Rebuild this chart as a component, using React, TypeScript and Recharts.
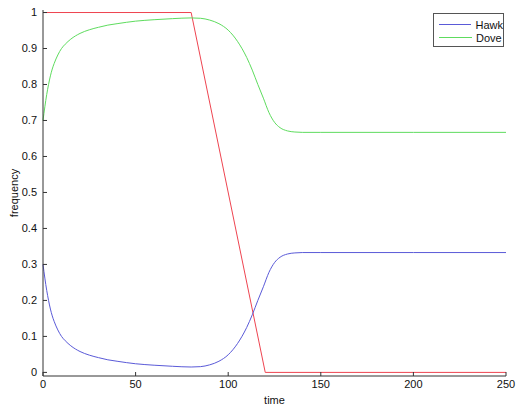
import { Line, LineChart, XAxis, YAxis } from "recharts";

// time steps shared by Hawk / Dove
const timeSteps = [0, 1, 2, 3, 4, 5, 6, 8, 10, 12, 15, 20, 25, 30, 35, 40, 50, 60, 70, 80, 85, 90, 95, 100, 105, 110, 113, 116, 119, 122, 125, 128, 132, 136, 140, 150, 200, 250];
const hawk = [0.3, 0.262, 0.228, 0.2, 0.176, 0.157, 0.142, 0.118, 0.1, 0.088, 0.074, 0.058, 0.048, 0.041, 0.035, 0.031, 0.024, 0.02, 0.017, 0.015, 0.016, 0.021, 0.031, 0.049, 0.08, 0.125, 0.16, 0.2, 0.238, 0.278, 0.305, 0.32, 0.329, 0.332, 0.333, 0.333, 0.333, 0.333];
const dove = [0.7, 0.738, 0.772, 0.8, 0.824, 0.843, 0.858, 0.882, 0.9, 0.912, 0.926, 0.942, 0.952, 0.959, 0.965, 0.969, 0.976, 0.98, 0.983, 0.985, 0.984, 0.979, 0.969, 0.951, 0.92, 0.875, 0.84, 0.8, 0.762, 0.722, 0.695, 0.68, 0.671, 0.668, 0.667, 0.667, 0.667, 0.667];

// unlabelled red line
const redTime = [0, 80, 120, 250];
const redValue = [1, 1, 0, 0];

const xTicks = [0, 50, 100, 150, 200, 250];
const yTicks = [0, 0.1, 0.2, 0.3, 0.4, 0.5, 0.6, 0.7, 0.8, 0.9, 1];

const popData = timeSteps.map((t, i) => ({ t, hawk: hawk[i], dove: dove[i] }));
const redData = redTime.map((t, i) => ({ t, red: redValue[i] }));

const HAWK = "#5a5ad8";
const DOVE = "#5edc5e";
const RED = "#ee4450";
const AXIS = "#333";
const FONT = "'Liberation Sans', Arial, sans-serif";

const tickStyle = { fontSize: 11, fill: "#111", fontFamily: FONT };

function LegendBox() {
  const items = [
    { name: "Hawk", color: HAWK },
    { name: "Dove", color: DOVE },
  ];
  return (
    <div
      style={{
        position: "absolute",
        left: 433,
        top: 13,
        border: "1px solid #555",
        background: "#fff",
        width: 71,
        height: 34,
        boxSizing: "border-box",
        padding: "4px 0 0",
        fontFamily: FONT,
        fontSize: 11,
        color: "#111",
      }}
    >
      {items.map((it) => (
        <div key={it.name} style={{ display: "flex", alignItems: "center", height: 13 }}>
          <div style={{ width: 33, height: 1, background: it.color, marginLeft: 5, marginRight: 4 }} />
          <span>{it.name}</span>
        </div>
      ))}
    </div>
  );
}

export default function App() {
  return (
    <div style={{ position: "absolute", left: 0, top: 0, width: 526, height: 410, background: "#fff" }}>
      <LineChart width={526} height={410} margin={{ top: 10, right: 20, left: 0, bottom: 0 }}>
        <XAxis
          xAxisId="main"
          dataKey="t"
          type="number"
          domain={[0, 250]}
          ticks={xTicks}
          height={34}
          tickSize={-4}
          tickMargin={8}
          tick={tickStyle}
          stroke={AXIS}
          allowDuplicatedCategory={false}
          label={{ value: "time", position: "insideBottom", offset: 6, style: { ...tickStyle } }}
        />
        <XAxis
          xAxisId="top"
          orientation="top"
          type="number"
          domain={[0, 250]}
          ticks={xTicks}
          height={0}
          tickSize={-4}
          tick={false}
          stroke={AXIS}
        />
        <YAxis
          yAxisId="main"
          type="number"
          domain={[-0.01, 1.007]}
          ticks={yTicks}
          width={43}
          tickSize={-4}
          tickMargin={10}
          tick={tickStyle}
          stroke={AXIS}
          label={{
            value: "frequency",
            angle: -90,
            position: "insideLeft",
            offset: 14,
            style: { ...tickStyle, textAnchor: "middle" },
          }}
        />
        <YAxis
          yAxisId="right"
          orientation="right"
          type="number"
          domain={[-0.01, 1.007]}
          ticks={yTicks}
          width={0}
          tickSize={-4}
          tick={false}
          stroke={AXIS}
        />
        <Line
          xAxisId="main"
          yAxisId="main"
          data={redData}
          dataKey="red"
          stroke={RED}
          strokeWidth={1}
          dot={false}
          type="linear"
          isAnimationActive={false}
        />
        <Line
          xAxisId="main"
          yAxisId="main"
          data={popData}
          dataKey="hawk"
          name="Hawk"
          stroke={HAWK}
          strokeWidth={1}
          dot={false}
          type="monotone"
          isAnimationActive={false}
        />
        <Line
          xAxisId="main"
          yAxisId="main"
          data={popData}
          dataKey="dove"
          name="Dove"
          stroke={DOVE}
          strokeWidth={1}
          dot={false}
          type="monotone"
          isAnimationActive={false}
        />
      </LineChart>
      <LegendBox />
    </div>
  );
}
